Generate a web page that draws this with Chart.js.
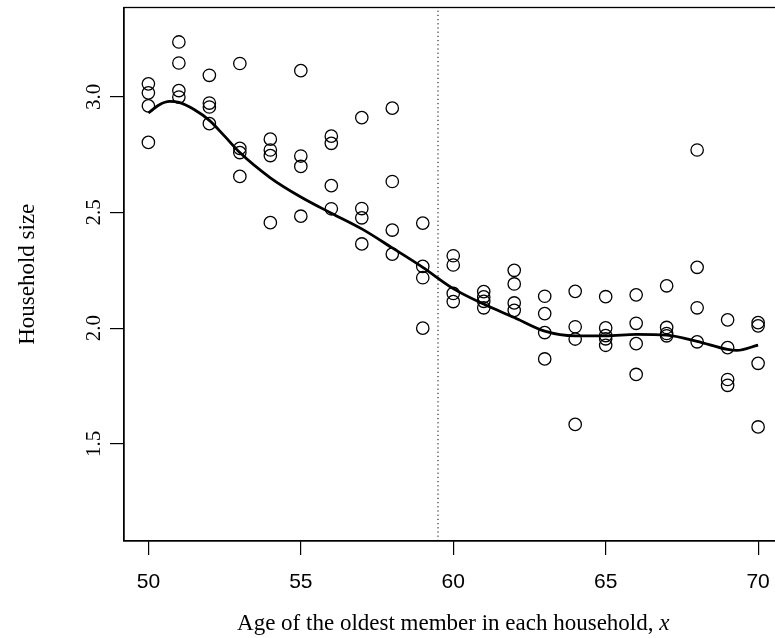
<!DOCTYPE html>
<html>
<head>
<meta charset="utf-8">
<script src="https://cdn.jsdelivr.net/npm/chart.js@4.4.0/dist/chart.umd.min.js"></script>
<style>
    html, body { margin: 0; padding: 0; background: #fff; overflow: hidden; }
    #wrap { width: 775px; height: 638px; overflow: hidden; }
</style>
</head>
<body>
<div id="wrap"><canvas id="chart" width="790" height="638"></canvas></div>
<script>
// Household size vs age of oldest member

// ages, one entry per observed point
const ages = [
    50, 50, 50, 50,
    51, 51, 51, 51,
    52, 52, 52, 52,
    53, 53, 53, 53,
    54, 54, 54, 54,
    55, 55, 55, 55,
    56, 56, 56, 56,
    57, 57, 57, 57,
    58, 58, 58, 58,
    59, 59, 59, 59,
    60, 60, 60, 60,
    61, 61, 61, 61,
    62, 62, 62, 62,
    63, 63, 63, 63,
    64, 64, 64, 64,
    65, 65, 65, 65, 65,
    66, 66, 66, 66,
    67, 67, 67, 67,
    68, 68, 68, 68,
    69, 69, 69, 69,
    70, 70, 70, 70
];

// household sizes matching the ages above
const sizes = [
    3.056, 3.017, 2.961, 2.803,
    3.237, 3.146, 3.027, 2.999,
    3.093, 2.973, 2.956, 2.884,
    3.144, 2.777, 2.759, 2.656,
    2.817, 2.770, 2.746, 2.456,
    3.113, 2.744, 2.699, 2.484,
    2.830, 2.799, 2.616, 2.516,
    2.910, 2.517, 2.477, 2.364,
    2.951, 2.634, 2.424, 2.320,
    2.454, 2.267, 2.218, 2.000,
    2.313, 2.273, 2.150, 2.115,
    2.158, 2.135, 2.116, 2.088,
    2.250, 2.191, 2.109, 2.077,
    2.138, 2.063, 1.981, 1.867,
    2.159, 2.006, 1.953, 1.584,
    2.136, 2.001, 1.968, 1.954, 1.926,
    2.144, 2.021, 1.933, 1.800,
    2.183, 2.003, 1.977, 1.967,
    2.770, 2.263, 2.088, 1.941,
    2.036, 1.916, 1.778, 1.753,
    2.024, 2.010, 1.848, 1.573
];

// smooth fitted curve, read at these ages
const fitAges = [50, 50.35, 50.7, 51, 51.5, 52, 52.5, 53, 54, 55, 56, 57, 58, 59, 60, 61, 62, 63, 64, 65, 66, 67, 68, 69, 69.3, 70];
const fitSizes = [2.930, 2.965, 2.980, 2.976, 2.945, 2.898, 2.830, 2.759, 2.650, 2.567, 2.497, 2.429, 2.347, 2.263, 2.171, 2.104, 2.046, 1.987, 1.967, 1.967, 1.973, 1.970, 1.943, 1.908, 1.904, 1.927];

// dotted reference line
const cutoffAge = 59.5;

// axis ticks and ranges
const xTicks = [50, 55, 60, 65, 70];
const yTicks = [1.5, 2.0, 2.5, 3.0];
const xRange = [49.2, 70.8];
const yRange = [1.08, 3.386];

const xTitle = 'Age of the oldest member in each household, ';
const xTitleVar = 'x';
const yTitle = 'Household size';

const SERIF = '"Liberation Serif", "DejaVu Serif", serif';
const SANS = '"Liberation Sans", Arial, sans-serif';

// box, rotated y labels and titles drawn R-style
const basePlot = {
    id: 'basePlot',
    afterDraw(chart) {
        const ctx = chart.ctx;
        const a = chart.chartArea;
        const ys = chart.scales.y;
        ctx.save();
        ctx.strokeStyle = '#000';
        ctx.lineWidth = 1.3;
        ctx.strokeRect(a.left, a.top, a.right - a.left, a.bottom - a.top);

        ctx.fillStyle = '#000';
        ctx.font = '21px ' + SERIF;
        ctx.textAlign = 'center';
        ctx.textBaseline = 'alphabetic';
        yTicks.forEach(v => {
            const py = ys.getPixelForValue(v);
            ctx.save();
            ctx.translate(a.left - 24, py);
            ctx.rotate(-Math.PI / 2);
            ctx.fillText(v.toFixed(1), 0, 0);
            ctx.restore();
        });

        // y title
        ctx.save();
        ctx.font = '23px ' + SERIF;
        ctx.translate(34, (a.top + a.bottom) / 2);
        ctx.rotate(-Math.PI / 2);
        ctx.fillText(yTitle, 0, 0);
        ctx.restore();

        // x title with italic variable
        const normalFont = '23px ' + SERIF;
        const italicFont = 'italic 23px ' + SERIF;
        ctx.font = normalFont;
        const w1 = ctx.measureText(xTitle).width;
        ctx.font = italicFont;
        const w2 = ctx.measureText(xTitleVar).width;
        const cx = (a.left + a.right) / 2;
        const startX = cx - (w1 + w2) / 2;
        ctx.textAlign = 'left';
        ctx.font = normalFont;
        ctx.fillText(xTitle, startX, 630);
        ctx.font = italicFont;
        ctx.fillText(xTitleVar, startX + w1, 630);
        ctx.restore();
    }
};

const ctx = document.getElementById('chart');
new Chart(ctx, {
    type: 'scatter',
    data: {
        datasets: [
            {
                label: 'households',
                data: ages.map((a, i) => ({ x: a, y: sizes[i] })),
                pointStyle: 'circle',
                pointRadius: 6.2,
                pointBorderWidth: 1.3,
                borderColor: '#000',
                backgroundColor: 'rgba(0,0,0,0)',
                order: 2
            },
            {
                type: 'line',
                label: 'fit',
                data: fitAges.map((a, i) => ({ x: a, y: fitSizes[i] })),
                borderColor: '#000',
                borderWidth: 2.8,
                pointRadius: 0,
                fill: false,
                cubicInterpolationMode: 'monotone',
                order: 1
            },
            {
                type: 'line',
                label: 'cutoff',
                data: [{ x: cutoffAge, y: yRange[0] }, { x: cutoffAge, y: yRange[1] }],
                borderColor: '#000',
                borderWidth: 1,
                borderDash: [1.2, 3],
                pointRadius: 0,
                fill: false,
                order: 3
            }
        ]
    },
    options: {
        responsive: false,
        animation: false,
        events: [],
        layout: { padding: { left: 0, top: 3, right: 6, bottom: 0 } },
        plugins: {
            legend: { display: false },
            tooltip: { enabled: false }
        },
        scales: {
            x: {
                type: 'linear',
                min: xRange[0],
                max: xRange[1],
                afterBuildTicks: (s) => { s.ticks = xTicks.map(v => ({ value: v })); },
                afterFit: (s) => { s.height = 97; },
                grid: { drawOnChartArea: false, drawTicks: true, tickLength: 14, color: '#000', lineWidth: 1.2 },
                border: { display: true, color: '#000', width: 1.3 },
                ticks: {
                    color: '#000',
                    font: { family: SANS, size: 21 },
                    padding: 15,
                    maxRotation: 0,
                    callback: (v) => String(v)
                }
            },
            y: {
                type: 'linear',
                min: yRange[0],
                max: yRange[1],
                afterBuildTicks: (s) => { s.ticks = yTicks.map(v => ({ value: v })); },
                afterFit: (s) => { s.width = 124; },
                grid: { drawOnChartArea: false, drawTicks: true, tickLength: 14, color: '#000', lineWidth: 1.2 },
                border: { display: true, color: '#000', width: 1.3 },
                ticks: { display: false }
            }
        }
    },
    plugins: [basePlot]
});
</script>
</body>
</html>
